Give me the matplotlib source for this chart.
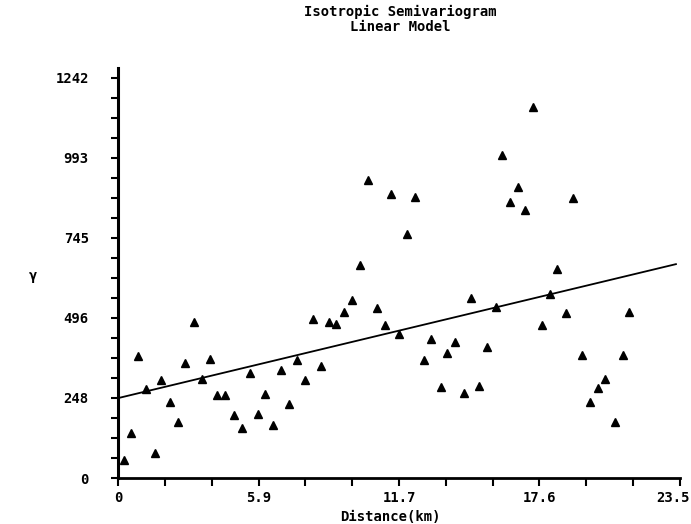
import matplotlib
matplotlib.use('Agg')
import matplotlib.pyplot as plt
import matplotlib.transforms as mtransforms
import numpy as np

# Experimental semivariogram points (distance in km, gamma)
distance = [0.25, 0.54, 1.53, 0.82, 1.17, 1.80, 2.19, 2.50, 2.81, 3.17,
            3.51, 3.85, 4.14, 4.49, 4.84, 5.20, 5.52, 5.87, 6.15, 6.49,
            6.82, 7.14, 7.47, 7.82, 8.14, 8.49, 8.82, 9.12, 9.46, 9.80,
            10.12, 10.82, 11.16, 11.76, 12.80, 13.10, 13.49, 13.77, 14.10, 14.46,
            14.77, 15.10, 15.42, 15.81, 10.44, 11.42, 12.42, 12.07, 17.34, 16.06,
            16.73, 16.40, 17.03, 19.01, 18.36, 18.06, 18.75, 17.73, 21.38, 19.40,
            21.10, 20.36, 20.06, 19.72, 20.77]
gamma = [56, 139, 79, 379, 276, 304, 236, 174, 358, 485,
         307, 369, 258, 258, 195, 156, 327, 200, 262, 165,
         335, 231, 366, 304, 493, 348, 485, 478, 516, 552,
         661, 529, 474, 447, 366, 433, 282, 389, 421, 263,
         558, 287, 407, 531, 925, 882, 873, 757, 1151, 1003,
         903, 857, 832, 870, 648, 570, 511, 475, 515, 382,
         382, 307, 280, 235, 174]

# Linear model line end points
model_x = [0, 23.33]
model_y = [248, 664]

x_labels = ['0', '5.9', '11.7', '17.6', '23.5']
y_labels = ['0', '248', '496', '745', '993', '1242']

font = {'family': 'DejaVu Sans Mono', 'weight': 'bold', 'size': 10}

fig = plt.figure(figsize=(6.91, 5.24), dpi=100)
ax = fig.add_axes([118 / 691, 46 / 524, 562 / 691, 410 / 524])

ax.plot(model_x, model_y, color='black', lw=1.3)
ax.plot(distance, gamma, linestyle='none', marker='^', markersize=6,
        color='black')

ax.set_xlim(0, 23.5)
ax.set_ylim(0, 1273)

ax.set_xticks(np.linspace(0, 23.5, 5))
ax.set_xticklabels(x_labels, fontdict=font)
ax.set_xticks(np.linspace(0, 23.5, 13), minor=True)
ax.set_yticks(np.linspace(0, 1242, 6))
ax.set_yticklabels(y_labels, fontdict=font)
ax.set_yticks(np.linspace(0, 1242, 21), minor=True)

ax.tick_params(axis='x', which='both', direction='out', length=6, width=1.5, pad=3)
ax.tick_params(axis='y', which='both', direction='out', length=5, width=1.5, pad=16)

# keep the last x label inside the picture
last = ax.get_xticklabels()[-1]
last.set_transform(last.get_transform() +
                   mtransforms.ScaledTranslation(-0.07, 0, fig.dpi_scale_trans))

for side in ['top', 'right']:
    ax.spines[side].set_visible(False)
ax.spines['left'].set_linewidth(2.2)
ax.spines['bottom'].set_linewidth(2)

fig.text(400 / 691, 1 - 12 / 524, 'Isotropic Semivariogram', ha='center', va='center', **font)
fig.text(400 / 691, 1 - 27 / 524, 'Linear Model', ha='center', va='center', **font)
fig.text(390 / 691, 1 - 517 / 524, 'Distance(km)', ha='center', va='center', **font)
fig.text(33 / 691, 1 - 276 / 524, 'γ', ha='center', va='center', **font)

fig.savefig('out.png', dpi=100)
